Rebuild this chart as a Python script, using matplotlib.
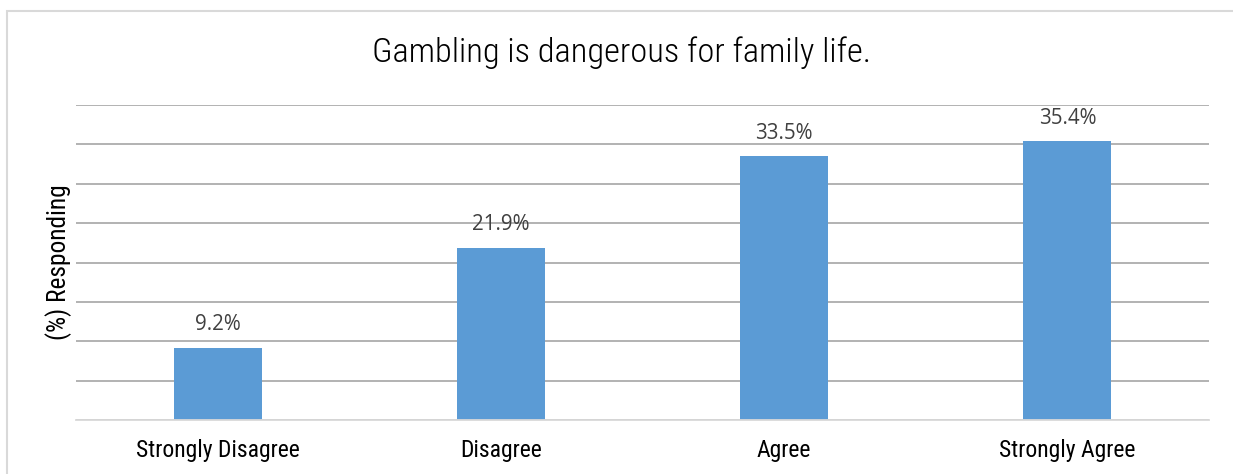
import matplotlib
matplotlib.use("Agg")
import matplotlib.pyplot as plt
from matplotlib.patches import Rectangle
import numpy as np

# chart data
categories = ["Strongly Disagree", "Disagree", "Agree", "Strongly Agree"]
values = [9.2, 21.9, 33.5, 35.4]
value_labels = ["9.2%", "21.9%", "33.5%", "35.4%"]
title = "Gambling is dangerous for family life."
ylabel = "(%) Responding"

cond = ["Roboto Condensed", "Liberation Sans Narrow", "DejaVu Sans"]
W, H = 1233, 474

fig = plt.figure(figsize=(W / 100, H / 100), dpi=100)
ax = fig.add_axes([76 / W, 1 - 420 / H, (1209 - 76) / W, (420 - 105) / H])

x = np.arange(len(categories))
ax.bar(x, values, width=0.31, color="#5B9BD5", zorder=3)

ax.set_xlim(-0.5, len(categories) - 0.5)
ax.set_ylim(0, 40)
ax.set_yticks(np.arange(0, 41, 5))
ax.yaxis.grid(True, color="#9e9e9e", linewidth=1.1, zorder=0)
ax.tick_params(axis="y", left=False, labelleft=False)
ax.tick_params(axis="x", bottom=False, pad=10.5)
ax.set_xticks(x)
ax.set_xticklabels(categories, family=cond, fontsize=17, color="#000000")
for s in ["top", "right", "left"]:
    ax.spines[s].set_visible(False)
ax.spines["bottom"].set_color("#d9d9d9")
ax.spines["bottom"].set_linewidth(1.3)
ax.spines["bottom"].set_zorder(4)

for xi, v, lab in zip(x, values, value_labels):
    ax.annotate(lab, (xi, v), xytext=(0, 9), textcoords="offset points",
                ha="center", va="bottom", fontsize=14.8,
                family=["Open Sans", "DejaVu Sans"], color="#404040")

ax.set_ylabel(ylabel, family=cond, fontsize=18.3, color="#000000", labelpad=3)
fig.text(622 / W, 1 - 53 / H, title, ha="center", va="center",
         family=cond, fontsize=24.8, fontweight="light", color="#000000")

# outer chart border
fig.patches.append(Rectangle((6.5 / W, -0.1), 1.2, 1 - 10.5 / H + 0.1,
                             transform=fig.transFigure, fill=False,
                             edgecolor="#d9d9d9", linewidth=1.5))

fig.savefig("out.png", dpi=100)
